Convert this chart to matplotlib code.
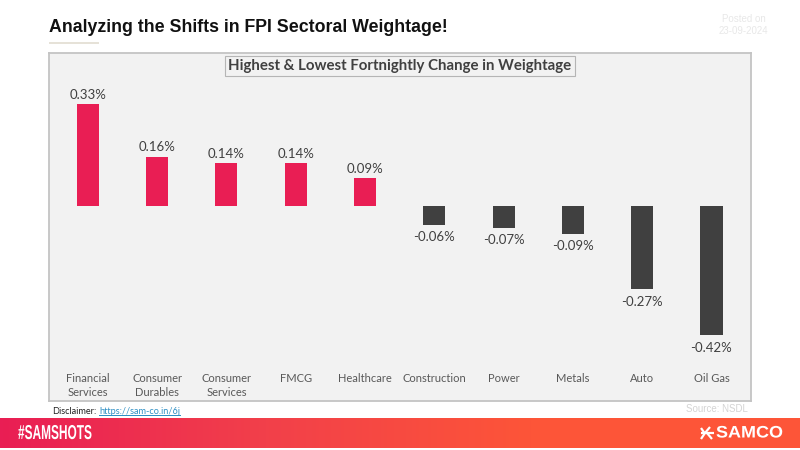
import numpy as np
import matplotlib
matplotlib.use('Agg')
import matplotlib.pyplot as plt
from matplotlib.colors import LinearSegmentedColormap
from matplotlib.patches import Rectangle
from matplotlib.patheffects import AbstractPathEffect
from matplotlib.transforms import Affine2D

sectors = ['Financial\nServices', 'Consumer\nDurables', 'Consumer\nServices', 'FMCG', 'Healthcare',
           'Construction', 'Power', 'Metals', 'Auto', 'Oil Gas']
change = [0.33, 0.16, 0.14, 0.14, 0.09, -0.06, -0.07, -0.09, -0.27, -0.42]

W, H = 800, 450
PANEL = '#f2f2f2'

plt.rcParams['font.family'] = ['Lato', 'DejaVu Sans']

fig = plt.figure(figsize=(8, 4.5), dpi=100, facecolor='white')

def box(x0, y0, x1, y1):
    # pixel box (y from the top) to figure fractions
    return [x0 / W, 1 - y1 / H, (x1 - x0) / W, (y1 - y0) / H]

class StretchX(AbstractPathEffect):
    # squeeze or widen a text sideways, no condensed font is installed
    def __init__(self, sx, x0):
        super().__init__()
        self.sx = sx
        self.x0 = x0

    def draw_path(self, renderer, gc, tpath, affine, rgbFace=None):
        st = Affine2D().translate(-self.x0, 0).scale(self.sx, 1).translate(self.x0, 0)
        renderer.draw_path(gc, tpath, affine + st, rgbFace)

# main panel
ax = fig.add_axes(box(49, 53, 751, 401), facecolor=PANEL)
colors = ['#e91e54' if v > 0 else '#404040' for v in change]
x = np.arange(len(change))
ax.bar(x, change, width=0.32, color=colors)
ax.set_xlim(-0.56, 9.57)
ax.set_ylim(-0.633, 0.497)
ax.set_xticks([])
ax.set_yticks([])
for s in ax.spines.values():
    s.set_color('#c4c4c4')
    s.set_linewidth(1.3)

for i, v in enumerate(change):
    off = 2.4 if v > 0 else -4.6
    ax.annotate(f'{v:.2f}%', (i, v), xytext=(0, off), textcoords='offset points',
                ha='center', va='bottom' if v > 0 else 'top', fontsize=9.5, color='#404040')

for i, name in enumerate(sectors):
    ax.text(i, -0.541, name, ha='center', va='top', fontsize=8, color='#595959',
            linespacing=1.4)

fig.text(400 / W, 1 - 66 / H, 'Highest & Lowest Fortnightly Change in Weightage', ha='center', va='center',
         fontsize=10.85, fontweight='bold', color='#404040',
         bbox=dict(boxstyle='square,pad=0.22', facecolor=PANEL, edgecolor='#b5b5b5', linewidth=0.8))

# header
fig.text(49 / W, 1 - 28 / H, 'Analyzing the Shifts in FPI Sectoral Weightage!', ha='left', va='center',
         fontsize=12.77, fontweight='bold', color='#111111', family=['Liberation Sans', 'DejaVu Sans'])
fig.add_artist(Rectangle((49 / W, 1 - 43.5 / H), 50 / W, 1 / H, transform=fig.transFigure,
                         facecolor='#e6e2d8', edgecolor='none'))
fig.text(744 / W, 1 - 19.5 / H, 'Posted on', ha='center', va='center', fontsize=7, color='#e8e8e8',
         family=['Liberation Sans', 'DejaVu Sans'])
fig.text(743 / W, 1 - 31.5 / H, '23-09-2024', ha='center', va='center', fontsize=7, color='#e8e8e8',
         family=['Liberation Sans', 'DejaVu Sans'])

# under the panel
fig.text(52 / W, 1 - 411 / H, 'Disclaimer:', ha='left', va='center', fontsize=6.6, color='#222222')
fig.text(99 / W, 1 - 411 / H, 'https://sam-co.in/6j', ha='left', va='center', fontsize=6.6,
         color='#2e8fc4').set_url('https://sam-co.in/6j')
fig.add_artist(Rectangle((99 / W, 1 - 415.5 / H), 82 / W, 0.7 / H, transform=fig.transFigure,
                         facecolor='#2e8fc4', edgecolor='none'))
fig.text(748 / W, 1 - 408.5 / H, 'Source: NSDL', ha='right', va='center', fontsize=7, color='#d4d4d4',
         family=['Liberation Sans', 'DejaVu Sans'])

# footer band
band = fig.add_axes(box(0, 418, 800, 448))
cmap = LinearSegmentedColormap.from_list('band', ['#e91e54', '#f2404a', '#fd5538', '#fd5538'])
band.imshow(np.linspace(0, 1, 256).reshape(1, -1), aspect='auto', cmap=cmap, extent=(0, 800, 448, 418))
band.axis('off')
tag = band.text(18, 433.5, '#SAMSHOTS', ha='left', va='center', fontsize=14.5, fontweight='bold', color='white',
                family=['Liberation Sans', 'DejaVu Sans'])
tag.set_path_effects([StretchX(0.59, 18)])
logo = band.text(716, 433, 'SAMCO', ha='left', va='center', fontsize=12, fontweight='bold', color='white',
                 family=['Liberation Sans', 'DejaVu Sans'])
logo.set_path_effects([StretchX(1.08, 716)])

# logo mark
band.plot([701, 714], [433, 433], color='white', lw=1.6, solid_capstyle='butt')
band.plot([701, 704.5], [428, 433], color='white', lw=1.6, solid_capstyle='butt')
band.plot([710, 705], [427, 433], color='white', lw=1.6, solid_capstyle='butt')
band.plot([705, 701], [433, 439], color='white', lw=1.6, solid_capstyle='butt')
band.plot([707, 712], [433, 439], color='white', lw=1.6, solid_capstyle='butt')
band.set_xlim(0, 800)
band.set_ylim(448, 418)

fig.savefig('out.png', dpi=100)
